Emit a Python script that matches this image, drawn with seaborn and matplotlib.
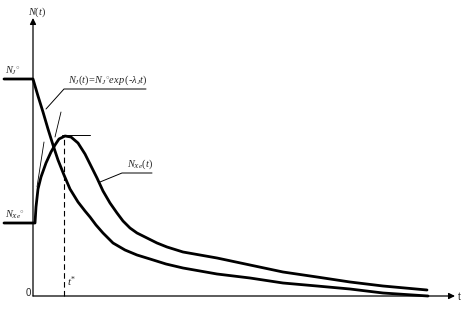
import matplotlib
matplotlib.use("Agg")
import matplotlib.pyplot as plt
import seaborn as sns
import pandas as pd

# ---- data (schematic, t and N in arbitrary units) ----
t_j = [-29, 0, 5, 10, 15, 20, 25, 31, 37, 45, 52, 57, 63, 70, 80, 92, 104, 117, 133, 150, 184, 217, 250, 284, 317, 350, 395]
n_j = [217, 217, 200, 184, 167, 151, 136, 121, 107, 94, 85, 79, 71, 63, 53, 46, 41, 37, 32, 28, 22, 18, 13, 10, 7, 3, 0]

t_xe = [-29, 2, 3, 5, 8, 13, 18, 22, 26, 32, 38, 45, 52, 57, 64, 70, 77, 84, 90, 97, 104, 114, 124, 134, 150, 184, 217, 250, 284, 317, 350, 394]
n_xe = [73, 73, 89, 107, 119, 133, 144, 151, 157, 160, 159, 153, 142, 132, 118, 105, 93, 83, 75, 68, 63, 58, 53, 49, 44, 38, 31, 24, 19, 14, 10, 6]

t_star = 31
n_peak = 160

label_j = r"$N_J(t)\!=\!N_J{}^{\circ}exp\,(\text{-}\lambda_J t)$"
label_xe = r"$N_{Xe}(t)$"

sns.set_style("white")
plt.rcParams["mathtext.fontset"] = "custom"
plt.rcParams["mathtext.rm"] = "Liberation Serif"
plt.rcParams["mathtext.it"] = "Liberation Serif:italic"
plt.rcParams["mathtext.bf"] = "Liberation Serif:bold"

fig = plt.figure(figsize=(4.71, 3.12), dpi=100)
ax = fig.add_axes([0, 0, 1, 1])
ax.set_xlim(-33, 438)
ax.set_ylim(-16, 296)
ax.axis("off")

df_j = pd.DataFrame({"t": t_j, "N": n_j})
df_xe = pd.DataFrame({"t": t_xe, "N": n_xe})
sns.lineplot(data=df_j, x="t", y="N", sort=False, color="black", lw=2.0, ax=ax)
sns.lineplot(data=df_xe, x="t", y="N", sort=False, color="black", lw=2.0, ax=ax)

# axes with arrows
ax.annotate("", xy=(0, 278), xytext=(0, 0),
            arrowprops=dict(arrowstyle="-|>", lw=0.9, color="black", mutation_scale=9, shrinkA=0, shrinkB=0))
ax.annotate("", xy=(422, 0), xytext=(0, 0),
            arrowprops=dict(arrowstyle="-|>", lw=0.9, color="black", mutation_scale=9, shrinkA=0, shrinkB=0))

# construction lines
ax.plot([t_star, t_star], [0, n_peak], color="black", lw=0.8, ls=(0, (5, 3)))
ax.plot([t_star - 2, t_star + 26], [n_peak + 1, n_peak + 1], color="black", lw=0.7)
ax.plot([4, 11], [109, 154], color="black", lw=0.6)
ax.plot([22, 28], [159, 184], color="black", lw=0.6)

# leader lines
ax.plot([13, 31, 113], [187, 207, 207], color="black", lw=0.7)
ax.plot([67, 89, 119], [114, 123, 123], color="black", lw=0.7)

# texts
fs = 7.5
ax.text(4, 284, r"$N(t)$", fontsize=fs, ha="center", va="center")
ax.text(-28, 219, r"$N_J{}^{\circ}$", fontsize=fs, ha="left", va="bottom")
ax.text(-28, 75, r"$N_{Xe}{}^{\circ}$", fontsize=fs, ha="left", va="bottom")
ax.text(35, 209, label_j, fontsize=fs, ha="left", va="bottom")
ax.text(94, 125, label_xe, fontsize=fs, ha="left", va="bottom")
ax.text(34, 7, r"$t^{*}$", fontsize=fs + 0.5, ha="left", va="bottom")
ax.text(-2, 3, "0", fontsize=7, ha="right", va="center", family="Liberation Sans")
ax.text(425, -1, "t", fontsize=7, ha="left", va="center", family="Liberation Sans")

fig.savefig("out.png", dpi=100)
